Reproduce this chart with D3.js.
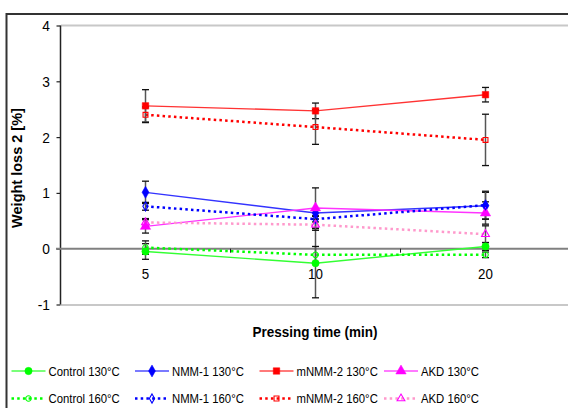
<!DOCTYPE html>
<html><head><meta charset="utf-8">
<script src="https://cdn.jsdelivr.net/npm/d3@7"></script>
<style>body{margin:0;background:#fff;overflow:hidden}text{font-family:"Liberation Sans",Arial,sans-serif;fill:#000}</style>
</head><body><svg id="c" width="568" height="408"></svg>
<script>
// ---- data ----
const categories = ["5", "10", "20"];
const yTicks = [-1, 0, 1, 2, 3, 4];
const seriesNames = ["Control 130°C", "NMM-1 130°C", "mNMM-2 130°C", "AKD 130°C",
                     "Control 160°C", "NMM-1 160°C", "mNMM-2 160°C", "AKD 160°C"];
const control130 = [-0.05, -0.26, 0.04];
const nmm1_130   = [1.01, 0.64, 0.77];
const mnmm2_130  = [2.56, 2.47, 2.76];
const akd130     = [0.40, 0.73, 0.64];
const control160 = [0.02, -0.11, -0.11];
const nmm1_160   = [0.76, 0.53, 0.78];
const mnmm2_160  = [2.40, 2.18, 1.95];
const akd160     = [0.47, 0.43, 0.26];
const control130Err = [0.14, 0.62, 0.07];
const nmm1_130Err   = [0.20, 0.05, 0.24];
const mnmm2_130Err  = [0.29, 0.14, 0.13];
const akd130Err     = [0.12, 0.36, 0.20];
const control160Err = [0.12, 0.15, 0.05];
const nmm1_160Err   = [0.07, 0.05, 0.25];
const mnmm2_160Err  = [0.14, 0.31, 0.46];
const akd160Err     = [0.07, 0.10, 0.15];
const xTitle = "Pressing time (min)";
const yTitle = "Weight loss 2 [%]";

const values = [control130, nmm1_130, mnmm2_130, akd130, control160, nmm1_160, mnmm2_160, akd160];
const errors = [control130Err, nmm1_130Err, mnmm2_130Err, akd130Err, control160Err, nmm1_160Err, mnmm2_160Err, akd160Err];
const styles = [
  {c:"#00ff00", line:"#33ff33", sym:d3.symbolCircle, fill:true, dash:null},
  {c:"#0000ff", line:"#3333ff", sym:d3.symbolDiamond, fill:true, dash:null},
  {c:"#ff0000", line:"#ff3333", sym:d3.symbolSquare, fill:true, dash:null},
  {c:"#ff00ff", line:"#ff33ff", sym:d3.symbolTriangle, fill:true, dash:null},
  {c:"#00ff00", line:"#00ff00", sym:d3.symbolCircle, fill:false, dash:"2.5,3.2"},
  {c:"#0000ff", line:"#0000ff", sym:d3.symbolDiamond, fill:false, dash:"2.5,3.2"},
  {c:"#ff0000", line:"#ff0000", sym:d3.symbolSquare, fill:false, dash:"2.5,3.2"},
  {c:"#ff00ff", line:"#ff99cc", sym:d3.symbolTriangle, fill:false, dash:"2.5,3.2"}
];
const series = seriesNames.map((n,i)=>({name:n, vals:values[i], errs:errors[i], st:styles[i]}));

const svg = d3.select("#c");
function txt(x, y, s, anchor, size, bold, sx){
  svg.append("g").attr("transform",`translate(${x},${y}) scale(${sx},1)`)
    .append("text").attr("text-anchor",anchor).attr("font-size",size)
    .attr("font-weight",bold?"bold":"normal").text(s);
}

// outer frame
svg.append("path").attr("d","M6.5,420 V14 H580").attr("fill","none").attr("stroke","#333").attr("stroke-width",2);

const x = d3.scaleBand().domain(categories).range([60.5, 570.5]);
const xc = c => x(c) + x.bandwidth()/2;
const y = d3.scaleLinear().domain([-1, 4]).range([304.5, 25.5]);

// top & bottom border lines of plot area
svg.append("line").attr("x1",61).attr("x2",568).attr("y1",y(4)).attr("y2",y(4)).attr("stroke","#c8c8c8").attr("stroke-width",2);
svg.append("line").attr("x1",61).attr("x2",568).attr("y1",y(-1)+0.5).attr("y2",y(-1)+0.5).attr("stroke","#c8c8c8").attr("stroke-width",2);

// y axis
const yAxis = svg.append("g").attr("transform","translate(60.5,0)")
  .call(d3.axisLeft(y).tickValues(yTicks).tickSize(4).tickFormat(""));
yAxis.select(".domain").attr("stroke","#222").attr("stroke-width",1.5).attr("d",`M0,${y(4)}V${y(-1)}`);
yAxis.selectAll(".tick line").attr("stroke","#222").attr("stroke-width",1.2);
yTicks.forEach(t => txt(50, y(t)+5.5, String(t), "end", 14.5, false, 0.95));

// zero line with category separators
svg.append("line").attr("x1",56).attr("x2",568).attr("y1",y(0)).attr("y2",y(0)).attr("stroke","#808080").attr("stroke-width",2);
const xAxis = svg.append("g").attr("transform",`translate(0,${y(0)})`)
  .call(d3.axisBottom(x).tickSize(0).tickFormat(""));
xAxis.select(".domain").remove();
categories.slice(1).forEach(c=>{
  svg.append("line").attr("x1",x(c)).attr("x2",x(c)).attr("y1",y(0)).attr("y2",y(0)+4).attr("stroke","#222").attr("stroke-width",1);
});
categories.forEach(c => txt(xc(c), 279, c, "middle", 14.5, false, 0.92));

// titles
txt(315, 337, xTitle, "middle", 15, true, 0.9);
svg.append("text").attr("transform",`translate(22,168) rotate(-90)`).attr("text-anchor","middle")
  .attr("font-size",14.5).attr("font-weight","bold").text(yTitle);

// lines
const lineGen = d3.line().x((d,i)=>xc(categories[i])).y(d=>y(d));
series.forEach(s=>{
  svg.append("path").attr("d",lineGen(s.vals)).attr("fill","none")
    .attr("stroke",s.st.line).attr("stroke-width",s.st.dash?2.5:1.4)
    .attr("stroke-dasharray",s.st.dash);
});

// error bars
series.forEach(s=>{
  s.vals.forEach((v,i)=>{
    const cx = xc(categories[i]);
    const e = s.errs[i];
    const g = svg.append("g");
    g.append("line").attr("x1",cx).attr("x2",cx).attr("y1",y(v+e)).attr("y2",y(v-e)).attr("stroke","#555").attr("stroke-width",1.5);
    [v+e, v-e].forEach(w=>g.append("line").attr("x1",cx-3.5).attr("x2",cx+3.5).attr("y1",y(w)).attr("y2",y(w)).attr("stroke","#111").attr("stroke-width",1.3));
  });
});

// markers
function marker(g, st, cx, cy){
  const size = st.fill ? 42 : 24;
  const sym = d3.symbol().type(st.sym).size(st.sym===d3.symbolTriangle ? size*1.1 : size);
  g.append("path").attr("d",sym()).attr("transform",`translate(${cx},${cy})`)
    .attr("fill", st.fill ? st.c : "none").attr("stroke", st.c).attr("stroke-width", st.fill ? 0.5 : 1.1);
}
series.forEach(s=>{
  s.vals.forEach((v,i)=> marker(svg, s.st, xc(categories[i]), y(v)));
});

// legend
const legX = [11.5, 135, 259.5, 384];
const legY = [371, 398.5];
series.forEach((s,i)=>{
  const col = i % 4, row = Math.floor(i/4);
  const lx = legX[col], ly = legY[row];
  svg.append("line").attr("x1",lx).attr("x2",lx+34).attr("y1",ly).attr("y2",ly)
    .attr("stroke", s.st.line).attr("stroke-opacity", s.st.dash?1:0.65)
    .attr("stroke-width", s.st.dash?2.5:2).attr("stroke-dasharray", s.st.dash);
  marker(svg, s.st, lx+17, ly);
  txt(lx+37, ly+4.8, s.name, "start", 13.5, false, 0.84);
});
</script></body></html>
